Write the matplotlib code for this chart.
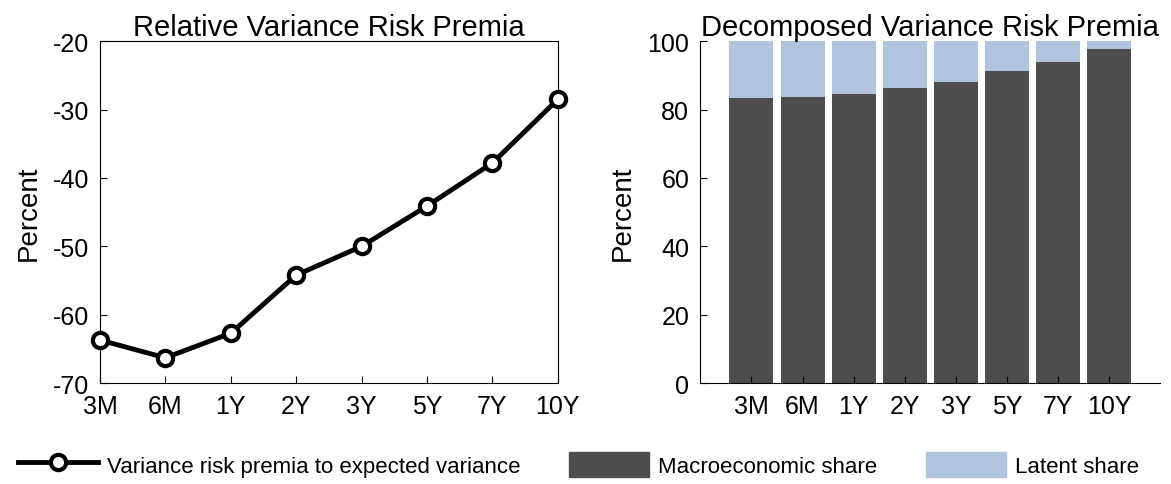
import matplotlib.pyplot as plt
import numpy as np
from matplotlib.patches import Patch
from matplotlib.lines import Line2D

plt.rcParams['font.family'] = ['Liberation Sans', 'DejaVu Sans']
plt.rcParams['axes.unicode_minus'] = False

maturities = ["3M", "6M", "1Y", "2Y", "3Y", "5Y", "7Y", "10Y"]
rel_vrp = [-63.7, -66.3, -62.7, -54.2, -50.0, -44.1, -37.8, -28.5]
macro_share = [83.3, 83.6, 84.5, 86.3, 88.0, 91.2, 93.9, 97.7]
latent_share = [100 - m for m in macro_share]

dark = "#4d4d4d"
light = "#b0c4de"

fig = plt.figure(figsize=(11.71, 4.85), dpi=100)
ax1 = fig.add_axes([0.0854, 0.208, 0.391, 0.705])
ax2 = fig.add_axes([0.598, 0.208, 0.393, 0.705])

x = np.arange(1, len(maturities) + 1)
ax1.plot(x, rel_vrp, color="black", lw=3.5, marker="o", markersize=11,
         markerfacecolor="white", markeredgewidth=3, clip_on=False, zorder=5)
ax1.set_xlim(1, 8)
ax1.set_ylim(-70, -20)
ax1.set_xticks(x)
ax1.set_xticklabels(maturities)
ax1.set_yticks(range(-70, -19, 10))
ax1.set_ylabel("Percent", fontsize=20, labelpad=8)
ax1.set_title("Relative Variance Risk Premia", fontsize=21, pad=3)
ax1.tick_params(direction="in", labelsize=18, length=5, pad=8)

ax2.bar(x, macro_share, width=0.86, color=dark)
ax2.bar(x, latent_share, bottom=macro_share, width=0.86, color=light)
ax2.set_xlim(0, 9)
ax2.set_ylim(0, 100)
ax2.set_xticks(x)
ax2.set_xticklabels(maturities)
ax2.set_yticks(range(0, 101, 20))
ax2.set_ylabel("Percent", fontsize=20, labelpad=8)
ax2.set_title("Decomposed Variance Risk Premia", fontsize=21, pad=3)
ax2.tick_params(direction="in", labelsize=18, length=5, pad=8)
ax2.spines["top"].set_visible(False)
ax2.spines["right"].set_visible(False)

handles = [
    Line2D([], [], color="black", lw=3.5, marker="o", markersize=11,
           markerfacecolor="white", markeredgewidth=3),
    Patch(color=dark), Patch(color=light),
]
labels = ["Variance risk premia to expected variance", "Macroeconomic share", "Latent share"]
fig.legend(handles, labels, loc="center", bbox_to_anchor=(0.494, 0.04), ncol=3,
           frameon=False, fontsize=16, handlelength=3.6, handleheight=1.4,
           handletextpad=0.4, columnspacing=2.2, borderaxespad=0)

fig.savefig("out.png")
